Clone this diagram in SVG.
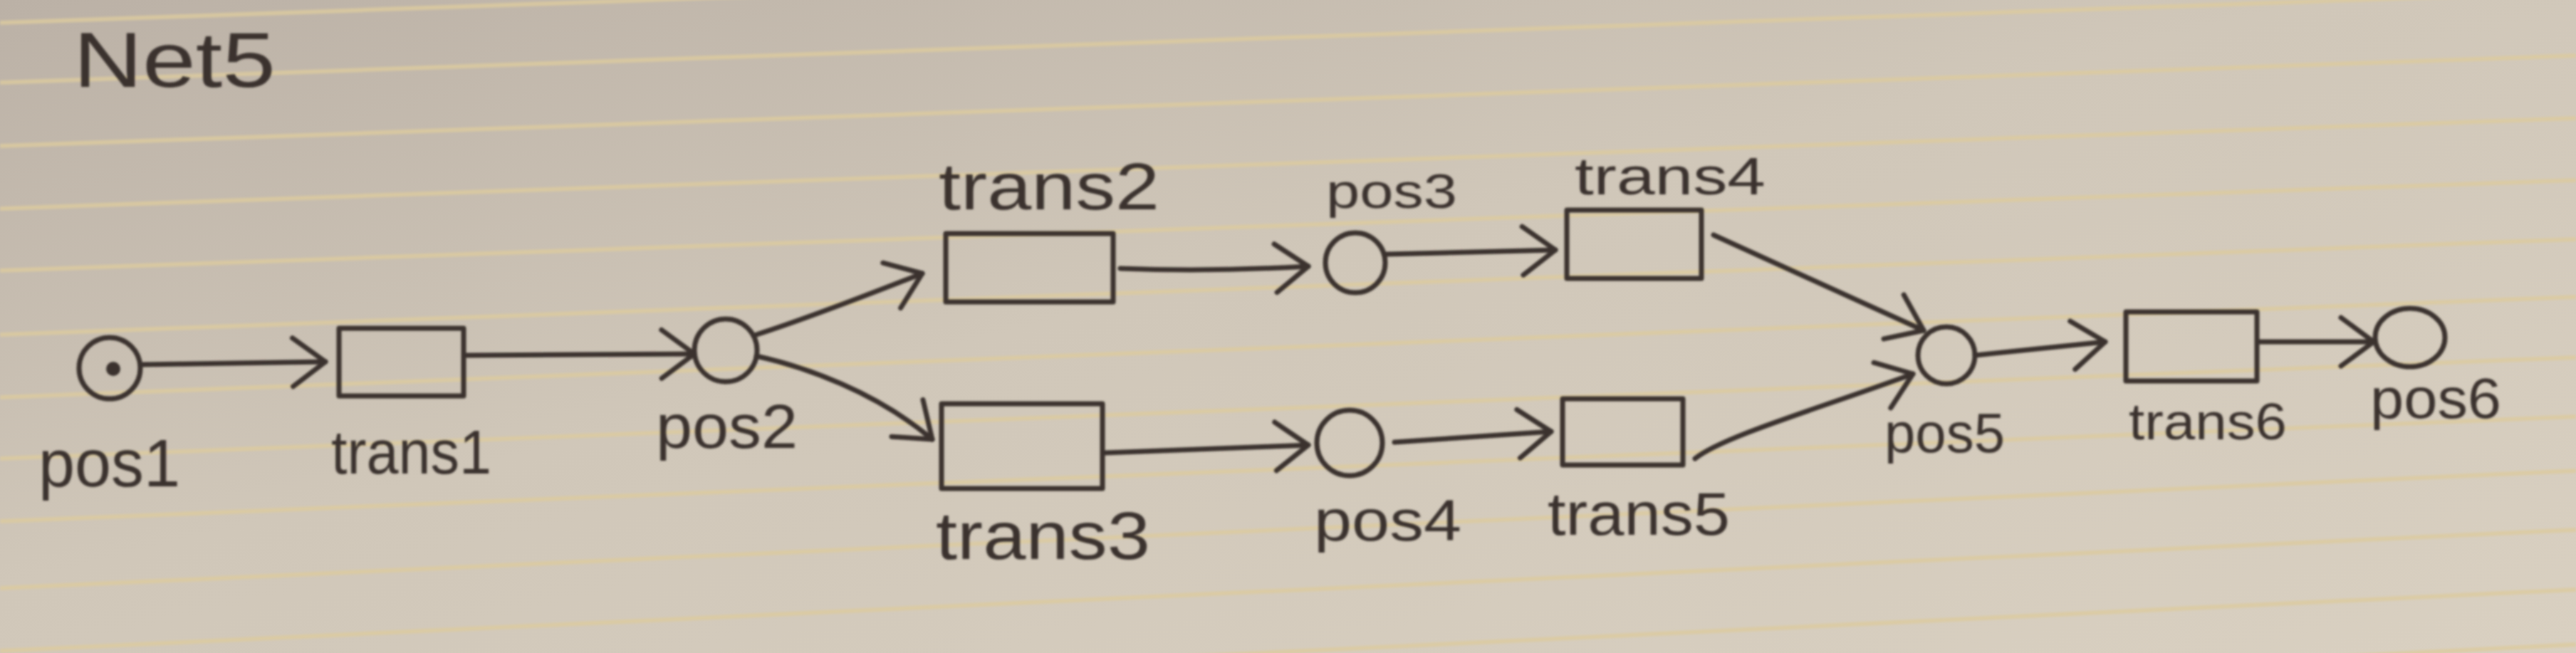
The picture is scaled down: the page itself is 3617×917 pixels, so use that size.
<svg xmlns="http://www.w3.org/2000/svg" width="3617" height="917" viewBox="0 0 3617 917">
<defs>
<linearGradient id="paper" x1="0" y1="0" x2="1" y2="1">
<stop offset="0" stop-color="#bbb1a6"/>
<stop offset="0.45" stop-color="#d0c7b9"/>
<stop offset="1" stop-color="#d9d0c1"/>
</linearGradient>
<marker id="chev" markerUnits="userSpaceOnUse" markerWidth="80" markerHeight="100" viewBox="-60 -50 80 100" refX="0" refY="0" orient="auto">
<path d="M -46 -34 L 0 0 L -46 34" fill="none" stroke="#3a332f" stroke-width="7" stroke-linecap="round" stroke-linejoin="round"/>
</marker>
<filter id="soft" x="-5%" y="-5%" width="110%" height="110%"><feGaussianBlur stdDeviation="1.4"/></filter>
</defs>
<style>
.ink{fill:none;stroke:#3a332f;stroke-width:7;stroke-linecap:round;stroke-linejoin:round}
.rule{stroke:#dccb9f;stroke-width:6;opacity:0.8;fill:none}
.lbl{font-family:"Liberation Sans","DejaVu Sans",sans-serif;fill:#3a332f}
.conn{fill:none;stroke:#3a332f;stroke-width:7;stroke-linecap:round;marker-end:url(#chev)}
</style>
<rect x="0" y="0" width="3617" height="917" fill="url(#paper)"/>
<g id="rules" filter="url(#soft)">
<line class="rule" x1="0" y1="32" x2="3617" y2="-95"/>
<line class="rule" x1="0" y1="116" x2="3617" y2="-11"/>
<line class="rule" x1="0" y1="205" x2="3617" y2="78"/>
<line class="rule" x1="0" y1="293" x2="3617" y2="166"/>
<line class="rule" x1="0" y1="380" x2="3617" y2="253"/>
<line class="rule" x1="0" y1="470" x2="3617" y2="336"/>
<line class="rule" x1="0" y1="558" x2="3617" y2="417"/>
<line class="rule" x1="0" y1="644" x2="3617" y2="502"/>
<line class="rule" x1="0" y1="732" x2="3617" y2="585"/>
<line class="rule" x1="0" y1="826" x2="3617" y2="661"/>
<line class="rule" x1="0" y1="914" x2="3617" y2="744"/>
<line class="rule" x1="0" y1="1002" x2="3617" y2="828"/>
<line class="rule" x1="0" y1="1090" x2="3617" y2="905"/>
</g>
<g filter="url(#soft)">
<text id="title" class="lbl" x="103" y="122" font-size="110" textLength="284" lengthAdjust="spacingAndGlyphs">Net5</text>
<g id="connectors">
<path class="conn" d="M 199 512 L 457 508"/>
<path class="conn" d="M 655 499 L 975 497"/>
<path class="conn" d="M 1062 470 Q 1140 445 1295 384"/>
<path class="conn" d="M 1062 500 C 1130 515 1230 550 1309 617"/>
<path class="conn" d="M 1573 377 Q 1700 382 1837 374"/>
<path class="conn" d="M 1947 357 L 2184 351"/>
<path class="conn" d="M 1550 636 L 1837 625"/>
<path class="conn" d="M 1958 621 L 2178 606"/>
<path class="conn" d="M 2406 330 L 2701 464"/>
<path class="conn" d="M 2380 644 C 2420 612 2560 572 2686 525"/>
<path class="conn" d="M 2773 499 L 2956 480"/>
<path class="conn" d="M 3171 480 L 3333 480"/>
</g>
<g id="pos1"><circle class="ink" cx="154" cy="517" r="43"/><circle cx="159" cy="518" r="10" fill="#3a332f"/><text class="lbl" x="54" y="683" font-size="95" textLength="199" lengthAdjust="spacingAndGlyphs">pos1</text></g>
<g id="trans1"><rect class="ink" x="476" y="461" width="175" height="95"/><text class="lbl" x="465" y="665" font-size="88" textLength="225" lengthAdjust="spacingAndGlyphs">trans1</text></g>
<g id="pos2"><circle class="ink" cx="1019" cy="492" r="44"/><text class="lbl" x="921" y="629" font-size="88" textLength="199" lengthAdjust="spacingAndGlyphs">pos2</text></g>
<g id="trans2"><rect class="ink" x="1328" y="328" width="235" height="96"/><text class="lbl" x="1318" y="294" font-size="92" textLength="310" lengthAdjust="spacingAndGlyphs">trans2</text></g>
<g id="trans3"><rect class="ink" x="1322" y="567" width="226" height="119"/><text class="lbl" x="1314" y="785" font-size="95" textLength="301" lengthAdjust="spacingAndGlyphs">trans3</text></g>
<g id="pos3"><circle class="ink" cx="1903" cy="369" r="42"/><text class="lbl" x="1862" y="292" font-size="68" textLength="184" lengthAdjust="spacingAndGlyphs">pos3</text></g>
<g id="pos4"><circle class="ink" cx="1895" cy="622" r="46"/><text class="lbl" x="1845" y="759" font-size="82" textLength="207" lengthAdjust="spacingAndGlyphs">pos4</text></g>
<g id="trans4"><rect class="ink" x="2200" y="295" width="189" height="96"/><text class="lbl" x="2211" y="273" font-size="75" textLength="268" lengthAdjust="spacingAndGlyphs">trans4</text></g>
<g id="trans5"><rect class="ink" x="2194" y="560" width="169" height="93"/><text class="lbl" x="2173" y="751" font-size="85" textLength="256" lengthAdjust="spacingAndGlyphs">trans5</text></g>
<g id="pos5"><circle class="ink" cx="2733" cy="499" r="40"/><text class="lbl" x="2646" y="635" font-size="78" textLength="169" lengthAdjust="spacingAndGlyphs">pos5</text></g>
<g id="trans6"><rect class="ink" x="2985" y="438" width="184" height="97"/><text class="lbl" x="2989" y="617" font-size="72" textLength="222" lengthAdjust="spacingAndGlyphs">trans6</text></g>
<g id="pos6"><ellipse class="ink" cx="3384" cy="474" rx="49" ry="41"/><text class="lbl" x="3328" y="587" font-size="80" textLength="184" lengthAdjust="spacingAndGlyphs">pos6</text></g>
</g>
</svg>
